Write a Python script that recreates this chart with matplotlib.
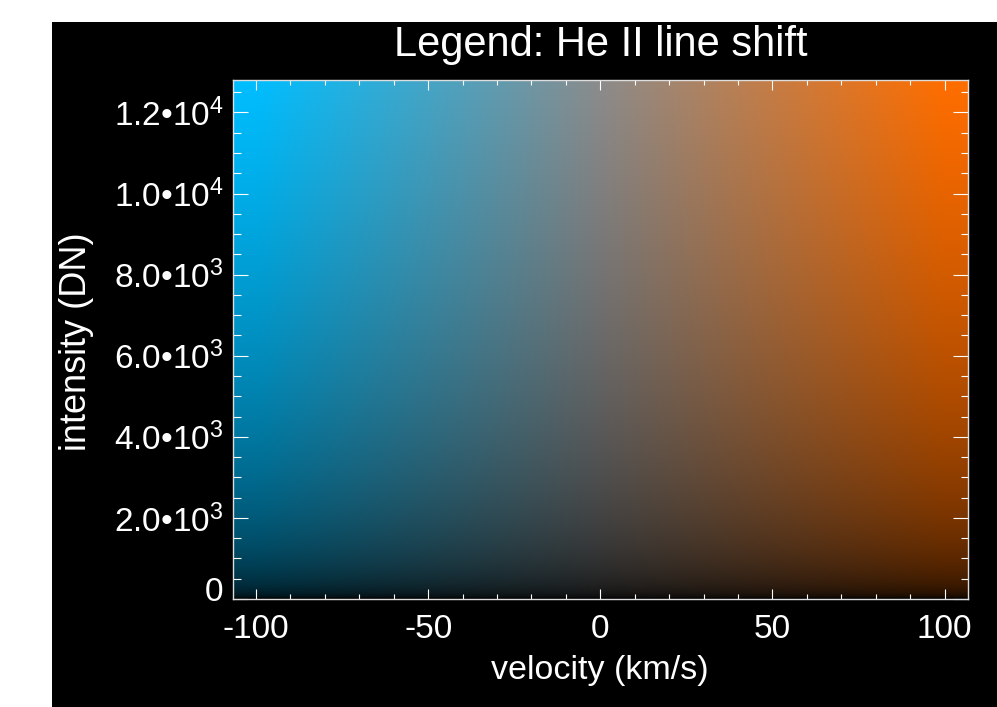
import numpy as np
import matplotlib
matplotlib.use("Agg")
import matplotlib.pyplot as plt
from matplotlib.patches import Rectangle
from matplotlib.ticker import FixedLocator, MultipleLocator
from matplotlib.transforms import ScaledTranslation

plt.rcParams['font.family'] = ['Liberation Sans', 'DejaVu Sans']
plt.rcParams['mathtext.fontset'] = 'custom'
plt.rcParams['mathtext.rm'] = 'Liberation Sans'
plt.rcParams['mathtext.it'] = 'Liberation Sans:italic'

# ---- data ----
title = "Legend: He II line shift"
x_label = "velocity (km/s)"
y_label = "intensity (DN)"
x_ticks = [-100, -50, 0, 50, 100]
x_tick_labels = ["-100", "-50", "0", "50", "100"]
y_ticks = [0, 2000, 4000, 6000, 8000, 10000, 12000]
y_tick_labels = ["0", "2.0•10$^3$", "4.0•10$^3$", "6.0•10$^3$",
                 "8.0•10$^3$", "1.0•10$^4$", "1.2•10$^4$"]
velocity_range = [-106.7, 106.7]
intensity_range = [0, 12800]
velocity_saturation = 100.0
blue_rgb = [0, 190, 255]
center_rgb = [140, 140, 140]
orange_rgb = [255, 110, 0]
brightness_gamma = 0.4

# ---- colour field ----
v = np.linspace(velocity_range[0], velocity_range[1], 500)
inten = np.linspace(intensity_range[0], intensity_range[1], 400)
V, I = np.meshgrid(v, inten)
s = np.clip(np.abs(V) / velocity_saturation, 0, 1)[..., None]
hue = np.where(V[..., None] < 0, np.array(blue_rgb, float), np.array(orange_rgb, float))
base = np.array(center_rgb, float) * (1 - s) + hue * s
bright = (I / intensity_range[1]) ** brightness_gamma
rgb = np.clip(base * bright[..., None] / 255.0, 0, 1)

fig = plt.figure(figsize=(9.97, 7.07), dpi=100, facecolor='white')
fig.patches.append(Rectangle((52 / 997, 0), 1 - 52 / 997, (707 - 22) / 707,
                             transform=fig.transFigure, facecolor='black',
                             edgecolor='none', zorder=-10))

ax = fig.add_axes([233 / 997, (707 - 599) / 707, (967.7 - 233) / 997, (599 - 80) / 707])
ax.set_facecolor('black')
ax.imshow(rgb, origin='lower', aspect='auto', interpolation='bilinear',
          extent=[velocity_range[0], velocity_range[1], intensity_range[0], intensity_range[1]])
ax.set_xlim(velocity_range)
ax.set_ylim(intensity_range)

ax.xaxis.set_major_locator(FixedLocator(x_ticks))
ax.set_xticklabels(x_tick_labels)
ax.xaxis.set_minor_locator(MultipleLocator(10))
ax.yaxis.set_major_locator(FixedLocator(y_ticks))
ax.set_yticklabels(y_tick_labels)
ax.yaxis.set_minor_locator(MultipleLocator(500))

ax.tick_params(which='both', direction='in', top=True, right=True,
               color='white', labelcolor='white', width=0.8)
ax.tick_params(axis='x', which='major', length=7.2, labelsize=24, pad=11)
ax.tick_params(axis='x', which='minor', length=3.6)
ax.tick_params(axis='y', which='major', length=10.8, labelsize=24, pad=7)
ax.tick_params(axis='y', which='minor', length=5.4)
for sp in ax.spines.values():
    sp.set_color('#dddddd')
    sp.set_linewidth(1.0)

# IDL-style raised zero label
zl = ax.yaxis.get_major_ticks()[0].label1
zl.set_transform(zl.get_transform() + ScaledTranslation(0, 10 / 100, fig.dpi_scale_trans))

fig.text(600 / 997, 1 - 670 / 707, x_label, color='white', fontsize=24.5,
         ha='center', va='center')
fig.text(77 / 997, 1 - 342 / 707, y_label, color='white', fontsize=26,
         ha='center', va='center', rotation=90)
fig.text(601 / 997, 1 - 56 / 707, title, color='white', fontsize=30,
         ha='center', va='baseline')

fig.savefig("out.png", dpi=100, facecolor='white')
